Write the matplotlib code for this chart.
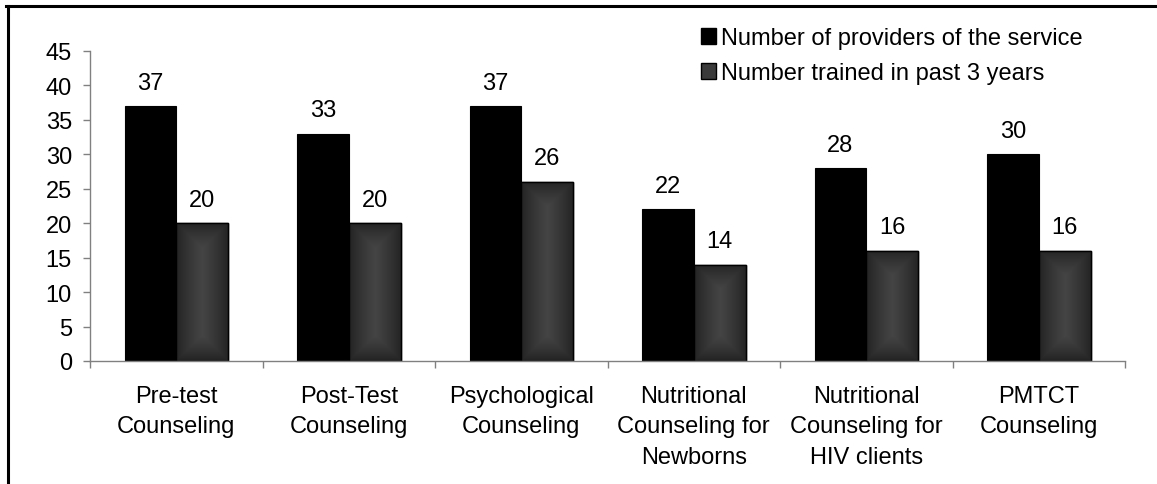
import numpy as np
import matplotlib
matplotlib.use("Agg")
import matplotlib.pyplot as plt
from matplotlib.patches import Rectangle, Patch
from matplotlib.lines import Line2D

plt.rcParams['font.family'] = ['Liberation Sans', 'DejaVu Sans']

categories = ["Pre-test\nCounseling", "Post-Test\nCounseling", "Psychological\nCounseling",
              "Nutritional\nCounseling for\nNewborns", "Nutritional\nCounseling for\nHIV clients",
              "PMTCT\nCounseling"]
providers = [37, 33, 37, 22, 28, 30]
trained = [20, 20, 26, 14, 16, 16]
series_names = ["Number of providers of the service", "Number trained in past 3 years"]
yticks = [0, 5, 10, 15, 20, 25, 30, 35, 40, 45]

W, H, DPI = 1157, 485, 100
fig = plt.figure(figsize=(W / DPI, H / DPI), dpi=DPI)
ax = fig.add_axes([90 / W, 1 - 362 / H, (1125 - 90) / W, (362 - 52) / H])

FS = 17
x = np.arange(len(categories))
bw = 0.3
ax.set_xlim(-0.5, len(categories) - 0.5)
ax.set_ylim(0, 45)

b1 = ax.bar(x - bw / 2, providers, bw, color='black', edgecolor='black', linewidth=0.8, zorder=2)
b2 = ax.bar(x + bw / 2, trained, bw, color='#2a2a2a', edgecolor='black', linewidth=1.0, zorder=2)

# gradient fill for second series (from-center rectangular gradient)
fig.canvas.draw()
pxx = ax.transData.transform((1, 0))[0] - ax.transData.transform((0, 0))[0]
pxy = ax.transData.transform((0, 1))[1] - ax.transData.transform((0, 0))[1]
c_edge = np.array([0.13, 0.13, 0.13])
c_mid = np.array([0.27, 0.27, 0.27])
for rect in b2:
    x0, y0 = rect.get_x(), rect.get_y()
    w, h = rect.get_width(), rect.get_height()
    wp, hp = w * pxx, h * pxy
    nx, ny = int(max(wp, 2)), int(max(hp, 2))
    gx = (np.arange(nx) + 0.5)
    gy = (np.arange(ny) + 0.5)
    X, Y = np.meshgrid(gx, gy)
    d = np.minimum(np.minimum(X, wp - X), np.minimum(Y, hp - Y))
    t = np.clip(d / (wp / 2), 0, 1) ** 0.8
    img = c_edge[None, None, :] + (c_mid - c_edge)[None, None, :] * t[:, :, None]
    im = ax.imshow(img, extent=(x0, x0 + w, y0, y0 + h), origin='lower',
                   aspect='auto', interpolation='bilinear', zorder=2.5)
    im.set_clip_path(rect)
    ax.add_patch(Rectangle((x0, y0), w, h, fill=False, edgecolor='black', linewidth=1.0, zorder=3))
ax.set_xlim(-0.5, len(categories) - 0.5)
ax.set_ylim(0, 45)

for bars, vals in ((b1, providers), (b2, trained)):
    for r, v in zip(bars, vals):
        ax.annotate(str(v), (r.get_x() + r.get_width() / 2, v), xytext=(0, 9),
                    textcoords='offset points', ha='center', va='bottom', fontsize=FS)

for s in ('top', 'right'):
    ax.spines[s].set_visible(False)
for s in ('left', 'bottom'):
    ax.spines[s].set_color('#808080')
    ax.spines[s].set_linewidth(1.0)
    ax.spines[s].set_zorder(4)

ax.set_yticks(yticks)
ax.tick_params(axis='y', direction='out', length=5, width=1, color='#808080', labelsize=FS, pad=8)
ax.set_xticks(np.arange(len(categories) + 1) - 0.5)
ax.set_xticklabels([])
ax.tick_params(axis='x', which='major', direction='out', length=5, width=1, color='#808080')
ax.set_xticks(x, minor=True)
ax.set_xticklabels(categories, minor=True, fontsize=FS, linespacing=1.52)
ax.tick_params(axis='x', which='minor', length=0, pad=17)

handles = [Patch(facecolor='black', edgecolor='black'),
           Patch(facecolor='#3a3a3a', edgecolor='black')]
ax.legend(handles, series_names, loc='upper left', bbox_to_anchor=(701 / W, 1 - 28 / H),
          bbox_transform=fig.transFigure, frameon=False, fontsize=FS,
          handlelength=0.65, handleheight=0.65, handletextpad=0.2, labelspacing=0.55,
          borderpad=0, borderaxespad=0)

# outer frame (left and top visible)
fig.add_artist(Line2D([7.5 / W, 7.5 / W], [0, 1 - 6.5 / H], transform=fig.transFigure,
                      color='black', linewidth=2.2))
fig.add_artist(Line2D([7.5 / W - 0.001, 1], [1 - 6.5 / H, 1 - 6.5 / H], transform=fig.transFigure,
                      color='black', linewidth=2.2))

fig.savefig('out.png', dpi=DPI)
